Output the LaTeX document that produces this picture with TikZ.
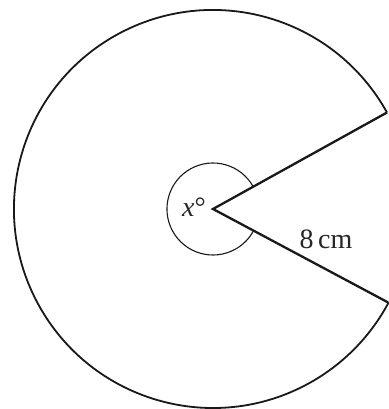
\documentclass[tikz,border=0pt]{standalone}
\usepackage{fontspec}
\setmainfont{Liberation Serif}
\begin{document}
\begin{tikzpicture}[x=1pt,y=-1pt,
  rim/.style={line width=1.8pt,black!90},
  spoke/.style={line width=2.3pt,black!90,line join=miter},
  anglemark/.style={line width=1.1pt,black!90},
  lbl/.style={font=\fontsize{28}{32}\selectfont,text=black!85,inner sep=0pt,anchor=base}]
\useasboundingbox (0,0) rectangle (388,409);
\fill[white] (0,0) rectangle (388,409);
\coordinate (O) at (213,209);
\coordinate (A) at (387.0,112.5);
\coordinate (B) at (388.0,302.4);
\draw[rim] (A) arc[start angle=-29, end angle=-332, radius=199];
\draw[spoke] (A) -- (O) -- (B);
\draw[anglemark] ([shift={(40.2,-22.3)}]O) arc[start angle=-29, end angle=-332, radius=46];
\node[lbl] (x) at (194,216) {\textit{x}°};
\node[lbl] (r) at (326,248) {8\,cm};
\end{tikzpicture}
\end{document}
